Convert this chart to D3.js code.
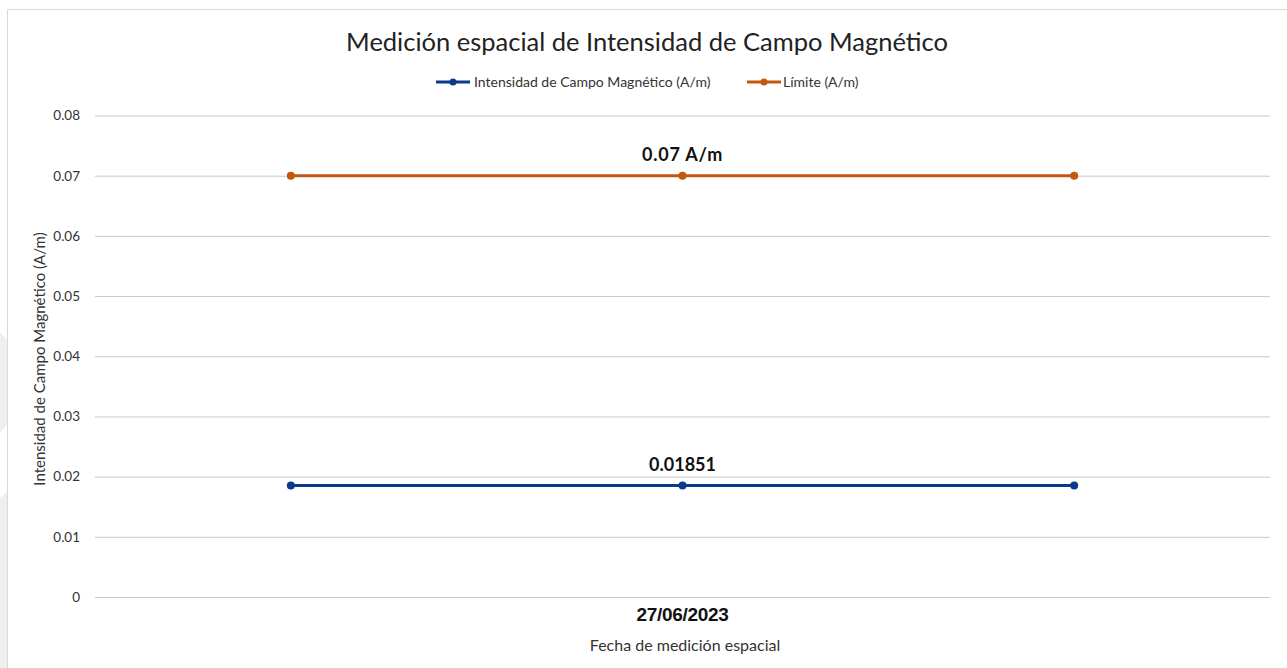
<!DOCTYPE html>
<html>
<head>
<meta charset="utf-8">
<script src="https://cdn.jsdelivr.net/npm/d3@7"></script>
<style>
  html, body { margin: 0; padding: 0; background: #fff; }
  svg { display: block; }
</style>
</head>
<body>
<svg id="chart" width="1287" height="668"></svg>
<script>
// Measurement data
const categoryLabels = ["", "27/06/2023", ""];
const intensidad = [0.01851, 0.01851, 0.01851];
const limite = [0.07, 0.07, 0.07];
const yTicks = [0, 0.01, 0.02, 0.03, 0.04, 0.05, 0.06, 0.07, 0.08];
const seriesNames = ["Intensidad de Campo Magnético (A/m)", "Límite (A/m)"];
const seriesColors = ["#0b3a8c", "#c5560f"];
const pointLabels = ["0.01851", "0.07 A/m"];

const svg = d3.select("#chart");
const W = 1287, H = 668;
const margin = { left: 95, right: 17, top: 115.5, bottom: 71 };
const font = "Lato, 'Open Sans', sans-serif";

// background and frame
svg.append("rect").attr("x", 0).attr("y", 0).attr("width", W).attr("height", H).attr("fill", "#fff");
svg.append("path").attr("d", "M0,332 L7,340 L7,425 L0,433 Z").attr("fill", "#efefef");
svg.append("path").attr("d", "M0,498 L7,492 L7,668 L0,668 Z").attr("fill", "#efefef");
svg.append("path").attr("d", `M7.5,${H} V9.5 H${W}`).attr("fill", "none").attr("stroke", "#d9d9d9").attr("stroke-width", 1);

const x = d3.scaleBand().domain(d3.range(categoryLabels.length)).range([margin.left, W - margin.right]);
const y = d3.scaleLinear().domain([0, 0.08]).range([H - margin.bottom, margin.top]);

// gridlines + y labels
const yAxis = d3.axisLeft(y).tickValues(yTicks).tickSize(-(W - margin.left - margin.right)).tickPadding(15)
  .tickFormat(d => d === 0 ? "0" : d3.format(".2f")(d));
const gy = svg.append("g").attr("transform", `translate(${margin.left},0)`).call(yAxis);
gy.select(".domain").remove();
gy.selectAll(".tick line").attr("stroke", "#c8c8c8").attr("stroke-width", 1);
gy.selectAll(".tick text").attr("fill", "#333").attr("font-family", font).attr("font-size", 13.5);

// x category labels
const xAxis = d3.axisBottom(x).tickSize(0).tickPadding(11).tickFormat(i => categoryLabels[i]);
const gx = svg.append("g").attr("transform", `translate(0,${H - margin.bottom})`).call(xAxis);
gx.select(".domain").remove();
gx.selectAll(".tick text").attr("fill", "#111").attr("font-family", "'Liberation Sans', Arial, sans-serif")
  .attr("font-size", 19).attr("font-weight", "bold").attr("letter-spacing", "-0.3px");

// series
const series = [intensidad, limite];
const cx = i => x(i) + x.bandwidth() / 2;
series.forEach((vals, s) => {
  const line = d3.line().x((d, i) => cx(i)).y(d => y(d));
  svg.append("path").datum(vals).attr("d", line).attr("fill", "none")
    .attr("stroke", seriesColors[s]).attr("stroke-width", 3);
  svg.selectAll(null).data(vals).enter().append("circle")
    .attr("cx", (d, i) => cx(i)).attr("cy", d => y(d)).attr("r", 4).attr("fill", seriesColors[s]);
  // value label above middle point
  svg.append("text").attr("x", cx(1)).attr("y", y(vals[1]) - 15).attr("text-anchor", "middle")
    .attr("font-family", font).attr("font-size", 18).attr("font-weight", "bold").attr("fill", "#111")
    .attr("letter-spacing", s === 1 ? "0.8px" : "0px")
    .text(pointLabels[s]);
});

// title
svg.append("text").attr("x", 647).attr("y", 51).attr("text-anchor", "middle")
  .attr("font-family", font).attr("font-size", 25.5).attr("fill", "#222")
  .text("Medición espacial de Intensidad de Campo Magnético");

// legend
const legend = [{ x: 436, tx: 474 }, { x: 747, tx: 783 }];
legend.forEach((l, s) => {
  const g = svg.append("g");
  g.append("line").attr("x1", l.x).attr("x2", l.x + 34).attr("y1", 82).attr("y2", 82)
    .attr("stroke", seriesColors[s]).attr("stroke-width", 3);
  g.append("circle").attr("cx", l.x + 17).attr("cy", 82).attr("r", 3.5).attr("fill", seriesColors[s]);
  g.append("text").attr("x", l.tx).attr("y", 87).attr("font-family", font).attr("font-size", 14)
    .attr("fill", "#333").text(seriesNames[s]);
});

// axis titles
svg.append("text").attr("x", 685).attr("y", 651).attr("text-anchor", "middle")
  .attr("font-family", font).attr("font-size", 16).attr("fill", "#333").text("Fecha de medición espacial");
svg.append("text").attr("transform", `translate(45,359) rotate(-90)`).attr("text-anchor", "middle")
  .attr("font-family", font).attr("font-size", 15).attr("fill", "#333")
  .text("Intensidad de Campo Magnético (A/m)");
</script>
</body>
</html>
